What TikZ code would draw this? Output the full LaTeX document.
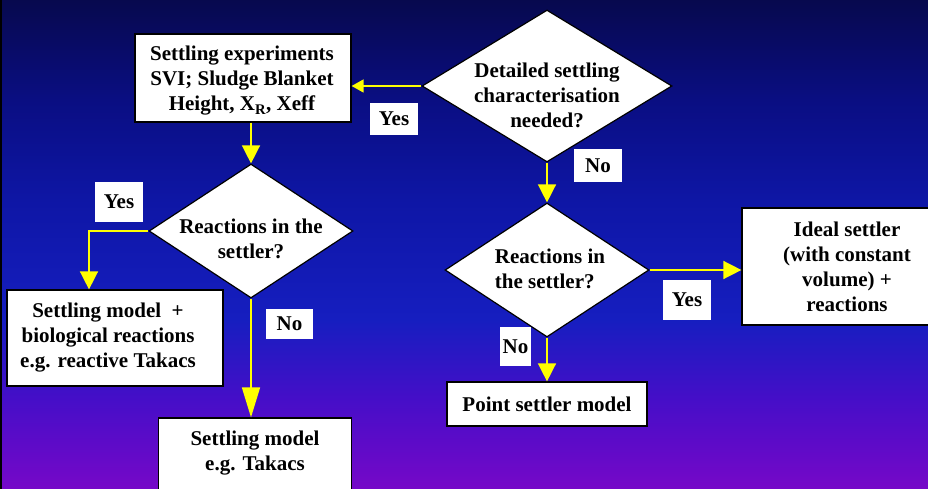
\documentclass[tikz,border=0pt]{standalone}
\usepackage{fontspec}
\setmainfont{Liberation Serif}
\usetikzlibrary{shapes.geometric,arrows.meta}
\definecolor{bgA}{RGB}{7,9,78}
\definecolor{bgB}{RGB}{10,14,130}
\definecolor{bgC}{RGB}{14,22,165}
\definecolor{bgD}{RGB}{22,30,192}
\definecolor{bgE}{RGB}{70,14,200}
\definecolor{bgF}{RGB}{118,8,200}
\definecolor{arrowyellow}{RGB}{255,255,0}
\pgfdeclareverticalshading{bgshade}{100bp}{color(0bp)=(bgF); color(25bp)=(bgF); color(34.1bp)=(bgE); color(42.3bp)=(bgD); color(54.6bp)=(bgC); color(64.8bp)=(bgB); color(75bp)=(bgA); color(100bp)=(bgA)}
\begin{document}
\begin{tikzpicture}[x=1pt,y=-1pt,
  font=\fontsize{21}{25}\selectfont\bfseries,
  box/.style={draw=black, line width=1.2pt, fill=white, inner sep=0pt, align=center},
  dia/.style={diamond, draw=black, line width=1.2pt, fill=white, inner sep=0pt},
  txt/.style={align=center, inner sep=0pt},
  lbl/.style={fill=white, inner sep=0pt},
  arr/.style={draw=arrowyellow, line width=1.5pt, -{Triangle[width=18pt,length=18pt]}},
]
\useasboundingbox (0,0) rectangle (928,489);
\clip (0,0) rectangle (928,489);
\shade[shading=bgshade] (0,0) rectangle (928,489);
\fill[black] (0,0) rectangle (2,489);

% boxes
\node[box, minimum width=216pt, minimum height=88pt] (b1) at (243,78) {};
\node[txt] (b1t) at (242,81)
  {Settling experiments\\SVI; Sludge Blanket\\Height, X\textsubscript{R}, Xeff};
\node[box, minimum width=216pt, minimum height=96pt] (b2) at (115,338) {};
\node[txt] (b2t) at (108,338)
  {Settling model~ +\\biological reactions\\e.g. reactive Takacs};
\node[box, minimum width=193pt, minimum height=100pt] (b4) at (255,468) {};
\node[txt] (b4t) at (255,453) {Settling model\\e.g. Takacs};
\node[box, minimum width=210pt, minimum height=117pt] (b5) at (847,266.5)
  {Ideal settler\\(with constant\\volume) +\\reactions};
\node[box, minimum width=200pt, minimum height=44pt] (b3) at (547,404)
  {Point settler model};

% diamonds
\node[dia, minimum width=250pt, minimum height=152pt] (d1) at (547,86) {};
\node[txt] (d1t) at (547,95) {Detailed settling\\characterisation\\needed?};
\node[dia, minimum width=204pt, minimum height=134pt] (d3) at (251,231) {};
\node[txt] (d3t) at (251,239) {Reactions in the\\settler?};
\node[dia, minimum width=204pt, minimum height=134pt] (d2) at (547,270) {};
\node[txt, align=left] (d2t) at (550,269) {Reactions in\\the settler?};

% connectors
\draw[arr, -{Triangle[width=13pt,length=12pt]}] (d1.west) -- (d1.west -| b1.east);
\draw[arr] (d1.south) -- (d2.north);
\draw[arr] (b1.south -| d3.north) -- (d3.north);
\coordinate (c1) at (89,231);
\draw[arr] (d3.west) -- (c1) -- (c1 |- b2.north);
\draw[arr, -{Triangle[width=18pt,length=30pt]}] (d3.south) -- (d3.south |- b4.north);
\draw[arr] (d2.east) -- (d2.east -| b5.west);
\draw[arr] (d2.south) -- (d2.south |- b3.north);

% labels
\node[lbl, minimum width=48pt, minimum height=32pt] (l1) at (394,119) {Yes};
\node[lbl, minimum width=48pt, minimum height=33pt] (l2) at (598,165.5) {No};
\node[lbl, minimum width=48pt, minimum height=40pt] (l3) at (119,202) {Yes};
\node[lbl, minimum width=47pt, minimum height=30pt] (l4) at (289.5,324) {No};
\node[lbl, minimum width=48pt, minimum height=40pt] (l5) at (687,300) {Yes};
\node[lbl, minimum width=31pt, minimum height=39pt] (l6) at (515.5,346.5) {No};
\end{tikzpicture}
\end{document}
